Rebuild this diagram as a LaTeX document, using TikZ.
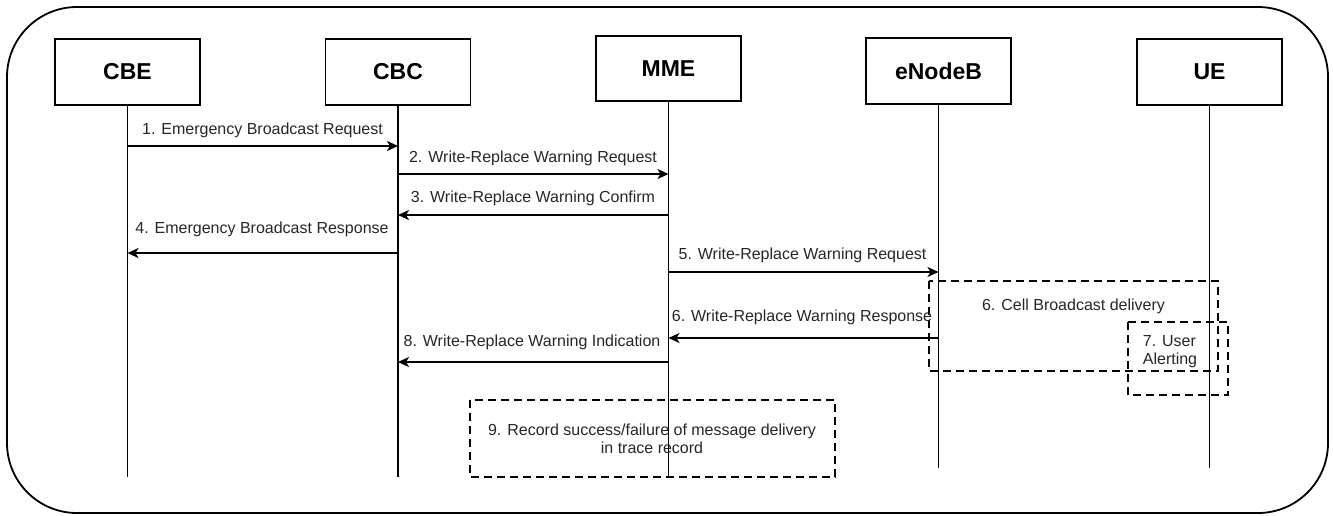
\documentclass[tikz,border=0pt]{standalone}
\usepackage{fontspec}
\setmainfont{Liberation Sans}
\usetikzlibrary{arrows.meta}
\tikzset{
  actor/.style={draw=black, line width=1.8pt, minimum width=145pt, minimum height=66pt, inner sep=0pt, font=\fontsize{23}{27}\selectfont\bfseries},
  life/.style={draw=black, line width=1.8pt},
  msg/.style={draw=black, line width=1.8pt, -{Stealth[length=11pt,width=10pt,inset=3pt]}},
  lbl/.style={inner sep=0pt, text=black!85, font=\fontsize{16}{18}\selectfont},
  dashbox/.style={draw=black, line width=1.8pt, dash pattern=on 8pt off 5pt, fill=none}
}
\begin{document}
\begin{tikzpicture}[x=1pt,y=-1pt]
\useasboundingbox (0,0) rectangle (1333,515);
\draw[line width=1.8pt, rounded corners=70pt] (7,7) rectangle (1328,513);

% actors
\node[actor] (cbe) at (127.5,72) {CBE};
\node[actor] (cbc) at (398,72) {CBC};
\node[actor, minimum height=65pt] (mme) at (668.5,68.5) {MME};
\node[actor] (enb) at (938.5,71) {eNodeB};
\node[actor] (ue) at (1209.5,72) {UE};

% lifeline ends
\coordinate (cbeE) at (127.5,477);
\coordinate (cbcE) at (398,477);
\coordinate (mmeE) at (668.5,476);
\coordinate (enbE) at (938.5,468);
\coordinate (ueE) at (1209.5,468);
\draw[life] (cbe) -- (cbeE);
\draw[life] (cbc) -- (cbcE);
\draw[life] (mme) -- (mmeE);
\draw[life] (enb) -- (enbE);
\draw[life] (ue) -- (ueE);

% dashed boxes
\draw[dashbox] (929,281) rectangle (1218,371);
\draw[dashbox] (1128,322) rectangle (1228,395);
\draw[dashbox] (470,400) rectangle (835,477);
\node[lbl] (t6) at (1073.5,306) {6. Cell Broadcast delivery};
\node[lbl, align=left] (t7) at (1170,351.5) {7. User\\Alerting};
\node[lbl, align=center] (t9) at (652,439) {9. Record success/failure of message delivery\\in trace record};

% message rows
\coordinate (m1) at (0,146);
\coordinate (m2) at (0,174);
\coordinate (m3) at (0,215);
\coordinate (m4) at (0,253);
\coordinate (m5) at (0,272);
\coordinate (m6) at (0,338);
\coordinate (m8) at (0,362);

\draw[msg] (cbe |- m1) -- (cbc |- m1);
\draw[msg] (cbc |- m2) -- (mme |- m2);
\draw[msg] (mme |- m3) -- (cbc |- m3);
\draw[msg] (cbc |- m4) -- (cbe |- m4);
\draw[msg] (mme |- m5) -- (enb |- m5);
\draw[msg] (enb |- m6) -- (mme |- m6);
\draw[msg] (mme |- m8) -- (cbc |- m8);

\node[lbl] (l1) at (262.5,130) {1. Emergency Broadcast Request};
\node[lbl] (l2) at (533,158) {2. Write-Replace Warning Request};
\node[lbl] (l3) at (533,198) {3. Write-Replace Warning Confirm};
\node[lbl] (l4) at (262,229) {4. Emergency Broadcast Response};
\node[lbl] (l5) at (802.5,255) {5. Write-Replace Warning Request};
\node[lbl] (l6) at (802,317) {6. Write-Replace Warning Response};
\node[lbl] (l8) at (532,342) {8. Write-Replace Warning Indication};
\end{tikzpicture}
\end{document}
